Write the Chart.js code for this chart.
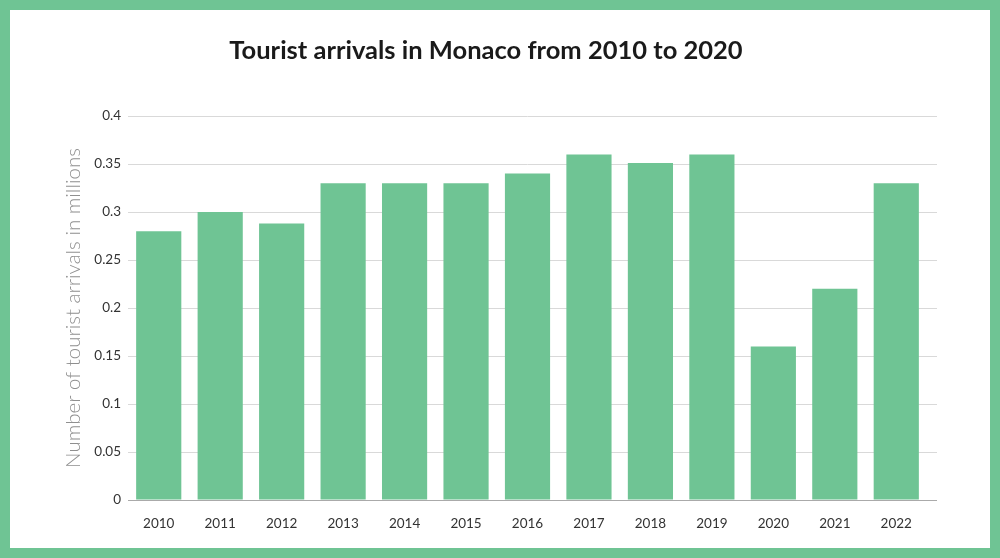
<!DOCTYPE html>
<html>
<head>
<meta charset="utf-8">
<script src="https://cdn.jsdelivr.net/npm/chart.js@4.4.0/dist/chart.umd.min.js"></script>
<style>
  html, body { margin: 0; padding: 0; background: #fff; }
  #frame {
    width: 1000px; height: 558px; box-sizing: border-box;
    border: 10px solid #6fc494; background: #fff;
  }
  #myChart { display: block; }
</style>
</head>
<body>
<div id="frame"><canvas id="myChart" width="980" height="538"></canvas></div>
<script>
// data
var years = ['2010', '2011', '2012', '2013', '2014', '2015', '2016', '2017', '2018', '2019', '2020', '2021', '2022'];
var arrivals = [0.28, 0.30, 0.288, 0.33, 0.33, 0.33, 0.34, 0.36, 0.351, 0.36, 0.16, 0.22, 0.33];
var yTicks = [0, 0.05, 0.1, 0.15, 0.2, 0.25, 0.3, 0.35, 0.4];

var chartTitle = 'Tourist arrivals in Monaco from 2010 to 2020';
var yTitle = 'Number of tourist arrivals in millions';

var fontFam = 'Lato, "Open Sans", sans-serif';
var gridExtra = 10; // grid lines run a little past the last bar

// title drawn by hand so it can sit a bit left of the canvas center
var titlePlugin = {
  id: 'titlePlugin',
  beforeDatasetsDraw: function (chart) {
    // stretch grid lines and the base line to the right
    var c = chart.ctx, a = chart.chartArea, y = chart.scales.y;
    c.save();
    c.lineWidth = 1;
    yTicks.forEach(function (v) {
      var py = Math.round(y.getPixelForValue(v)) + 0.5;
      c.strokeStyle = v === 0 ? '#aaaaaa' : '#d9d9d9';
      c.beginPath();
      c.moveTo(a.right, py);
      c.lineTo(a.right + gridExtra, py);
      c.stroke();
    });
    c.restore();
  },
  afterDraw: function (chart) {
    var c = chart.ctx;
    c.save();
    c.font = 'bold 25.5px ' + fontFam;
    c.fillStyle = '#1a1a1a';
    c.textAlign = 'center';
    c.textBaseline = 'middle';
    c.fillText(chartTitle, 476, 41);
    c.restore();
  }
};

var ctx = document.getElementById('myChart').getContext('2d');
var myChart = new Chart(ctx, {
  type: 'bar',
  data: {
    labels: years,
    datasets: [{
      label: 'arrivals',
      data: arrivals,
      backgroundColor: '#6fc494',
      borderWidth: 0,
      categoryPercentage: 0.735,
      barPercentage: 1
    }]
  },
  options: {
    responsive: false,
    animation: false,
    layout: {
      padding: { top: 106, right: 63, left: 0, bottom: 0 }
    },
    plugins: {
      legend: { display: false },
      title: { display: false },
      tooltip: { enabled: false }
    },
    scales: {
      x: {
        grid: { display: false, drawTicks: false },
        border: { display: true, color: '#aaaaaa', width: 1 },
        ticks: {
          color: '#333',
          font: { family: fontFam, size: 13.5 },
          padding: 16
        },
        afterFit: function (scale) { scale.height = 48; }
      },
      y: {
        min: 0,
        max: 0.4,
        afterBuildTicks: function (scale) {
          scale.ticks = yTicks.map(function (v) { return { value: v }; });
        },
        grid: { color: '#d9d9d9', drawTicks: false },
        border: { display: false },
        ticks: {
          color: '#333',
          font: { family: fontFam, size: 13.5 },
          padding: 7,
          callback: function (v) { return String(+v.toFixed(2)); }
        },
        title: {
          display: true,
          text: yTitle,
          color: '#8f8f8f',
          font: { family: fontFam, size: 20.5, weight: '300' },
          padding: { top: 51, bottom: 0 }
        },
        afterFit: function (scale) { scale.width = 118; }
      }
    }
  },
  plugins: [titlePlugin]
});
</script>
</body>
</html>
